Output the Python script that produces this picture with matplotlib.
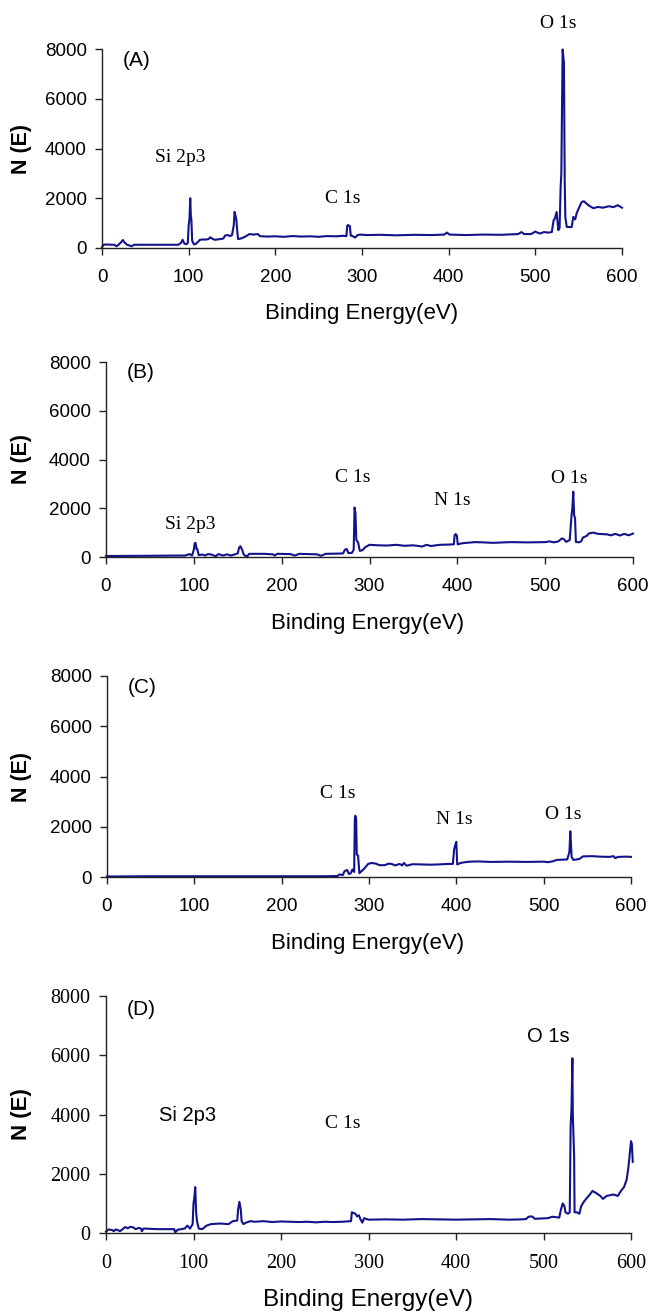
import matplotlib
matplotlib.use('Agg')
import matplotlib.pyplot as plt

# ---------------- data ----------------
ea = [0, 2, 4, 14, 17, 19, 22, 24, 26, 29, 31, 34, 37, 60, 88, 91, 93, 95, 97, 99,
      100, 101, 101.8, 102.5, 103.2, 104, 106, 108, 110, 113, 116, 120, 123, 125, 127,
      130, 135, 140, 142, 145, 148, 150, 152, 153, 154, 155, 156, 157, 160, 163, 166,
      170, 175, 180, 182, 185, 190, 200, 210, 220, 230, 240, 250, 260, 270, 278, 282,
      283, 284, 286, 287, 289, 292, 295, 298, 305, 320, 340, 360, 380, 395, 398, 401,
      420, 440, 460, 480, 484, 487, 495, 500, 505, 510, 515, 519, 521, 522.7, 524.6,
      526.5, 528, 529.2, 530, 531.5, 533, 533.9, 534.6, 536.2, 540, 542, 543.8, 546,
      547.7, 550.8, 553.5, 556, 559.2, 562, 567, 572, 578, 585, 590, 595, 600]
na = [40, 130, 140, 130, 70, 130, 230, 320, 220, 130, 110, 70, 130, 130, 130, 200, 330, 180, 150, 200,
      900, 1200, 2000, 1300, 1100, 300, 150, 160, 220, 330, 340, 340, 360, 430, 380,
      330, 350, 380, 500, 520, 480, 520, 900, 1450, 1300, 1150, 700, 360, 380, 420, 470,
      560, 540, 560, 480, 470, 460, 470, 450, 480, 460, 470, 450, 480, 470, 490, 480,
      900, 920, 880, 500, 480, 420, 520, 540, 520, 530, 510, 530, 520, 540, 620, 540,
      520, 540, 530, 560, 640, 560, 560, 660, 580, 640, 620, 640, 1100, 1200, 1450,
      720, 800, 2450, 3000, 7980, 7440, 2700, 1250, 850, 840, 850, 1250, 1150,
      1400, 1650, 1850, 1880, 1780, 1700, 1600, 1650, 1620, 1680, 1640, 1720, 1620]

eb = [0, 50, 90, 95, 98, 100, 101, 102, 103, 104, 105.5, 110, 113, 116, 120, 125, 128,
      133, 138, 142, 146, 150, 151.5, 153, 155, 156.5, 158, 161, 163, 180, 190, 192, 195,
      210, 215, 220, 240, 245, 250, 265, 270, 272, 274, 276, 280, 282, 283, 284, 285, 287,
      289, 292, 295, 298, 300, 310, 320, 330, 340, 350, 360, 365, 370, 380, 390, 396, 397,
      398, 399.5, 400.5, 405, 410, 420, 430, 440, 460, 480, 500, 505, 510, 515, 519, 521,
      524, 528, 530, 531, 532, 533, 534, 535, 538, 541, 543, 547, 550, 555, 560, 570, 575,
      580, 585, 590, 595, 600]
nb = [40, 50, 60, 120, 60, 300, 560, 580, 330, 320, 80, 100, 60, 120, 100, 30, 120,
      60, 110, 60, 100, 150, 380, 440, 300, 130, 60, 30, 130, 130, 110, 60, 130,
      120, 60, 130, 110, 50, 130, 140, 150, 300, 330, 160, 170, 300, 2030, 1800, 700, 600,
      250, 280, 400, 460, 500, 480, 470, 500, 460, 480, 430, 500, 450, 500, 510, 520, 900,
      940, 880, 520, 560, 580, 610, 600, 580, 610, 600, 610, 640, 600, 640, 760, 740,
      620, 700, 1700, 2000, 2680, 1700, 1600, 620, 600, 640, 800, 860, 970, 1000, 950, 930, 890,
      950, 880, 950, 890, 960]

ec = [0, 50, 150, 200, 250, 264, 266, 270, 272, 275, 277, 279, 281, 283, 283.8, 284.3,
      285.3, 286, 287.5, 289, 292, 295, 299, 303, 308, 312, 318, 322, 326, 330, 335, 338,
      340, 343, 350, 360, 370, 380, 390, 396, 397.5, 399, 400, 401, 405, 410, 415, 425,
      440, 460, 480, 500, 505, 510, 515, 522, 527, 529.5, 530.5, 532, 534, 538, 541, 545,
      555, 565, 575, 580, 582, 585, 595, 600]
nc = [20, 30, 30, 30, 30, 40, 100, 80, 230, 280, 120, 140, 300, 200, 2300, 2440,
      2300, 900, 850, 150, 250, 350, 520, 560, 530, 470, 470, 530, 520, 460, 520, 460,
      560, 450, 510, 500, 490, 500, 520, 520, 1100, 1300, 1400, 500, 560, 590, 610, 620,
      600, 610, 600, 610, 590, 620, 680, 690, 700, 1000, 1820, 800, 680, 700, 720, 820,
      830, 810, 800, 830, 750, 800, 810, 800]

ed = [0, 3, 7, 9, 11, 14, 16, 19, 22, 25, 28, 31, 34, 37, 40, 41, 43, 60, 78, 79, 82,
      90, 93, 96, 99, 100, 101, 102, 103, 104, 106, 110, 115, 120, 130, 140, 145, 150,
      151, 152.5, 154, 155, 157, 160, 165, 170, 180, 190, 200, 210, 220, 230, 240, 250,
      260, 270, 280, 281, 285, 287, 289, 291, 293, 295, 300, 320, 340, 360, 380, 400,
      420, 440, 460, 475, 480, 483, 487, 490, 505, 510, 518, 520, 522, 524, 525, 528,
      530, 531, 532, 533, 533.5, 535, 535.5, 538, 541, 543, 546, 550, 553, 556, 560,
      565, 568, 572, 580, 585, 588, 592, 595, 597, 599, 600, 601, 602]
nd = [50, 120, 100, 60, 120, 90, 60, 130, 200, 160, 210, 190, 130, 170, 150, 60, 150, 130, 130, 20, 110,
      150, 250, 150, 300, 1000, 1200, 1550, 700, 400, 150, 130, 250, 300, 320, 300, 400, 420,
      800, 1050, 800, 400, 300, 350, 400, 380, 400, 370, 390, 380, 370, 380, 360, 380,
      370, 380, 400, 700, 650, 560, 600, 450, 350, 500, 450, 460, 450, 470, 460, 450,
      460, 470, 450, 460, 470, 550, 560, 480, 500, 550, 520, 800, 1000, 900, 700, 650,
      700, 3600, 4200, 5900, 4000, 2600, 700, 700, 650, 900, 1050, 1200, 1300, 1420, 1350,
      1250, 1150, 1250, 1300, 1250, 1400, 1550, 1800, 2200, 2800, 3100, 3000, 2400]

panels = ['(A)', '(B)', '(C)', '(D)']
energies = [ea, eb, ec, ed]
counts = [na, nb, nc, nd]

# peak labels: (text, x, y, serif?)
labels = [
    [('O 1s', 527, 9045, True), ('Si 2p3', 90, 3620, True), ('C 1s', 278, 1970, True)],
    [('C 1s', 281, 3280, True), ('N 1s', 394, 2300, True), ('O 1s', 527, 3240, True),
     ('Si 2p3', 96, 1350, True)],
    [('C 1s', 264, 3340, True), ('N 1s', 398, 2270, True), ('O 1s', 522, 2470, True)],
    [('O 1s', 505, 6620, False), ('Si 2p3', 93, 3950, False), ('C 1s', 271, 3710, True)],
]

# ---------------- layout (pixel boxes in a 649x1311 image) ----------------
W, H = 649, 1311
boxes = [(102, 49, 622, 248), (106, 362, 633, 557), (107, 676, 631, 877), (106, 996, 631, 1233)]
xlab_pos = [(362, 313), (368, 623), (368, 943), (368, 1300)]

SANS = 'Liberation Sans'
SERIF = 'Liberation Serif'
line_col = '#12128c'

fig = plt.figure(figsize=(W / 100, H / 100), dpi=100)

for i in range(4):
    x0, y0, x1, y1 = boxes[i]
    ax = fig.add_axes([x0 / W, 1 - y1 / H, (x1 - x0) / W, (y1 - y0) / H])
    ax.plot(energies[i], counts[i], color=line_col, lw=1.5, clip_on=False)
    ax.set_xlim(0, 600)
    ax.set_ylim(0, 8000)
    ax.set_xticks(range(0, 601, 100))
    ax.set_yticks(range(0, 8001, 2000))
    for s in ['top', 'right']:
        ax.spines[s].set_visible(False)
    for s in ['left', 'bottom']:
        ax.spines[s].set_linewidth(1.0)
        ax.spines[s].set_color('#222222')
    ax.tick_params(direction='out', length=5, width=1, color='#222222', pad=6)

    tfam = SERIF if i == 3 else SANS
    tsize = 14.5 if i == 3 else 13.5
    for lab in ax.get_xticklabels() + ax.get_yticklabels():
        lab.set_fontfamily(tfam)
        lab.set_fontsize(tsize)
    ax.tick_params(axis='x', pad=10)

    ax.text(40, 7550, panels[i], fontsize=15, family=SANS, ha='center', va='center')
    for txt, xx, yy, serif in labels[i]:
        ax.text(xx, yy, txt, fontsize=14 if serif else 14.5,
                family=SERIF if serif else SANS, ha='center', va='center', clip_on=False)

    # axis titles
    fig.text(22 / W, 1 - (y0 + y1) / 2 / H, 'N (E)', rotation=90, fontsize=16 if i == 3 else 15.5,
             family=SANS, fontweight='bold', ha='center', va='center')
    xl, yl = xlab_pos[i]
    fig.text(xl / W, 1 - yl / H, 'Binding Energy(eV)', fontsize=17.5 if i == 3 else 16,
             family=SANS, ha='center', va='center')

fig.savefig('out.png', dpi=100)
